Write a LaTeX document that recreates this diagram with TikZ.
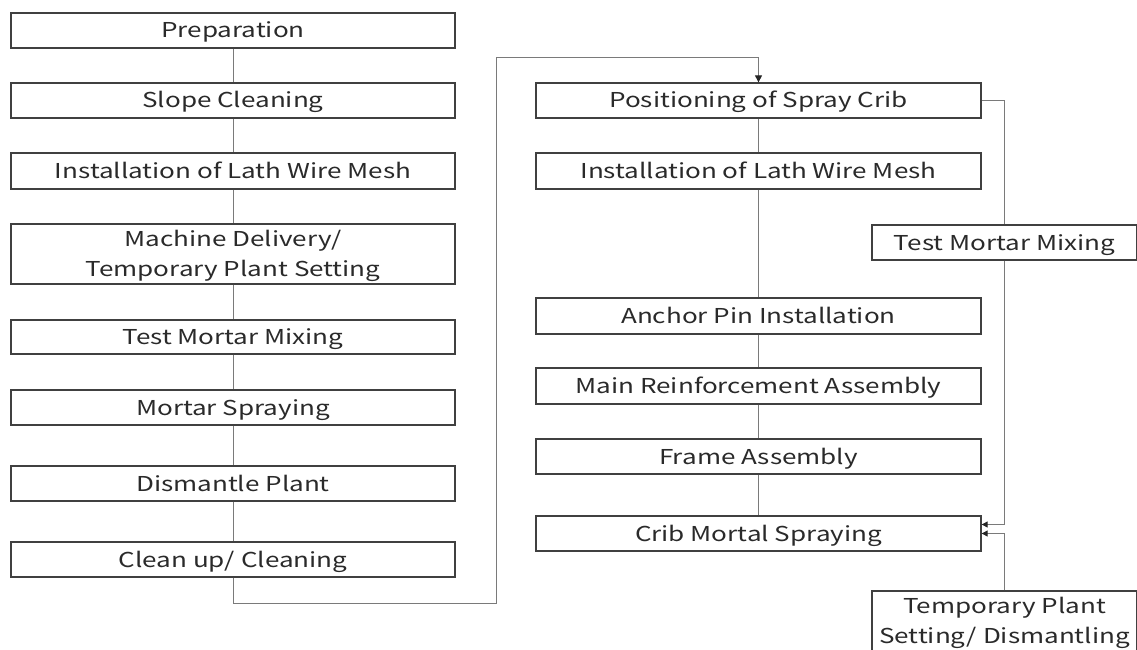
\documentclass[tikz,border=0pt]{standalone}
\usepackage{fontspec}
\setmainfont{Noto Sans CJK JP}[FakeStretch=1.27]
\usetikzlibrary{arrows.meta}
\definecolor{boxc}{HTML}{404040}
\definecolor{linec}{HTML}{7a7a7a}
\definecolor{txtc}{HTML}{2a2a2a}
\begin{document}
\begin{tikzpicture}[x=1pt,y=-1pt,
  box/.style={draw=boxc, line width=1.3pt, fill=white, inner sep=0pt, align=center,
    text=txtc, font=\fontsize{20.5}{30}\selectfont, text height=17pt, text depth=2pt},
  two/.style={text height=47pt, text depth=2pt},
  lbox/.style={box, minimum width=444pt},
  rbox/.style={box, minimum width=445pt},
  sbox/.style={box, minimum width=265pt},
  conn/.style={draw=linec, line width=1pt},
  arr/.style={conn, -{Triangle[length=7pt,width=7pt,color=black!85]}},
  sarr/.style={conn, -{Triangle[length=6pt,width=6pt,color=black!85]}}]
\useasboundingbox (0,0) rectangle (1137,650);
% left column
\node[lbox, minimum height=35pt] (p1) at (233,30.5) {Preparation};
\node[lbox, minimum height=35pt] (p2) at (233,100.5) {Slope Cleaning};
\node[lbox, minimum height=36pt] (p3) at (233,171) {Installation of Lath Wire Mesh};
\node[lbox, two, minimum height=60pt] (p4) at (233,254) {Machine Delivery/\\Temporary Plant Setting};
\node[lbox, minimum height=34pt] (p5) at (233,337) {Test Mortar Mixing};
\node[lbox, minimum height=35pt] (p6) at (233,407.5) {Mortar Spraying};
\node[lbox, minimum height=35pt] (p7) at (233,483.5) {Dismantle Plant};
\node[lbox, minimum height=35pt] (p8) at (233,559.5) {Clean up/ Cleaning};
% right column
\node[rbox, minimum height=35pt] (r1) at (758.5,100.5) {Positioning of Spray Crib};
\node[rbox, minimum height=36pt] (r2) at (758.5,171) {Installation of Lath Wire Mesh};
\node[rbox, minimum height=36pt] (r3) at (758.5,316) {Anchor Pin Installation};
\node[rbox, minimum height=36pt] (r4) at (758.5,386) {Main Reinforcement Assembly};
\node[rbox, minimum height=35pt] (r5) at (758.5,456.5) {Frame Assembly};
\node[rbox, minimum height=35pt] (r6) at (758.5,533.5) {Crib Mortal Spraying};
% side boxes
\node[sbox, minimum height=35pt] (t1) at (1004.5,242.5) {Test Mortar Mixing};
\node[sbox, text height=47pt, text depth=13pt, minimum height=70pt] (t2) at (1004.5,626) {Temporary Plant\\Setting/ Dismantling};
% connectors
\foreach \a/\b in {p1/p2,p2/p3,p3/p4,p4/p5,p5/p6,p6/p7,p7/p8,r1/r2,r2/r3,r3/r4,r4/r5,r5/r6}
  \draw[conn] (\a) -- (\b);
\coordinate (c1) at (496,603);
\coordinate (c2) at (496,58);
\draw[arr] (p8.south) |- (c1) -- (c2) -| (r1.north);
\draw[conn] (r1.east) -| (t1.north);
\draw[sarr] (t1.south) |- ([yshift=9pt]r6.east);
\draw[sarr] (t2.north) |- (r6.east);
\end{tikzpicture}
\end{document}
